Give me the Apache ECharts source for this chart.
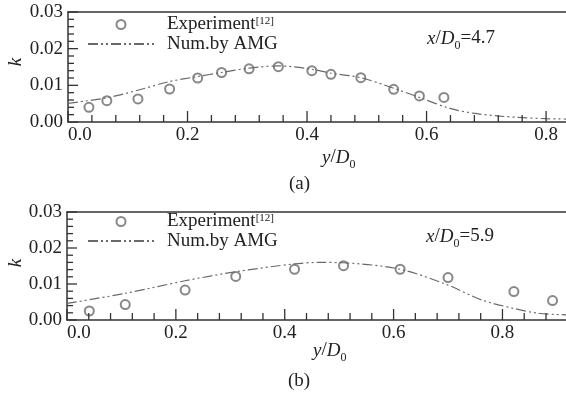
<!DOCTYPE html>
<html>
<head>
<meta charset="utf-8">
<script src="https://cdn.jsdelivr.net/npm/echarts@6/dist/echarts.min.js"></script>
<style>
html,body{margin:0;padding:0;background:#fff;}
#c{width:566px;height:395px;}
</style>
</head>
<body>
<div id="c"></div>
<script>
// ---- data (a): x/D0 = 4.7 ----
var expX_a = [0.035, 0.065, 0.117, 0.170, 0.217, 0.257, 0.303, 0.352, 0.408, 0.440, 0.490, 0.545, 0.588, 0.629];
var expK_a = [0.0040, 0.0058, 0.0063, 0.0090, 0.0120, 0.0135, 0.0145, 0.0151, 0.0140, 0.0130, 0.0121, 0.0089, 0.0071, 0.0067];
var numX_a = [0.000, 0.065, 0.120, 0.169, 0.217, 0.257, 0.303, 0.352, 0.408, 0.440, 0.490, 0.545, 0.588, 0.639, 0.678, 0.722, 0.761, 0.800, 0.840];
var numK_a = [0.0051, 0.0066, 0.0088, 0.0110, 0.0124, 0.0135, 0.0147, 0.0153, 0.0144, 0.0133, 0.0121, 0.0092, 0.0067, 0.0037, 0.0024, 0.0016, 0.0012, 0.0009, 0.0008];
// ---- data (b): x/D0 = 5.9 ----
var expX_b = [0.041, 0.107, 0.217, 0.310, 0.418, 0.508, 0.612, 0.700, 0.821, 0.892];
var expK_b = [0.0025, 0.0043, 0.0083, 0.0121, 0.0141, 0.0151, 0.0141, 0.0118, 0.0079, 0.0054];
var numX_b = [0.000, 0.107, 0.217, 0.310, 0.418, 0.462, 0.508, 0.612, 0.700, 0.761, 0.821, 0.865, 0.920];
var numK_b = [0.0046, 0.0074, 0.0109, 0.0134, 0.0156, 0.0160, 0.0159, 0.0141, 0.0097, 0.0056, 0.0032, 0.0019, 0.0014];
// ---- axis ticks ----
var xTicks = [0.0, 0.2, 0.4, 0.6, 0.8];
var yTicks = [0.00, 0.01, 0.02, 0.03];
var minorPerMajor = 5;
var seriesNames = ['Experiment', 'Num.by AMG'];
var panelLabels = ['(a)', '(b)'];
var stations = ['4.7', '5.9'];

function zip(xs, ys) { return xs.map(function (x, i) { return [x, ys[i]]; }); }

var FONT = 'Liberation Serif';
var AX = '#333';
var SER = '#6a6a6a';
var xMaxA = 500 / 600, xMaxB = 501 / 546.5;

function xAxisCfg(grid, max) {
  return {
    type: 'value', gridIndex: grid, min: xTicks[0], max: max, interval: xTicks[1] - xTicks[0],
    position: 'bottom',
    axisLine: { show: true, onZero: false, lineStyle: { color: AX, width: 1.5 } },
    axisTick: { show: false }, minorTick: { show: false },
    axisLabel: { show: true, fontFamily: FONT, fontSize: 19, color: '#222', margin: 4, showMaxLabel: false, alignMinLabel: 'left',
      formatter: function (v) { return v.toFixed(1); } },
    splitLine: { show: false }
  };
}
function xTopCfg(grid, max) {
  return {
    type: 'value', gridIndex: grid, min: xTicks[0], max: max, position: 'top',
    axisLine: { show: true, onZero: false, lineStyle: { color: AX, width: 1.5 } },
    axisTick: { show: false }, axisLabel: { show: false }, splitLine: { show: false }
  };
}
function yAxisCfg(grid) {
  return {
    type: 'value', gridIndex: grid, min: yTicks[0], max: yTicks[yTicks.length - 1], interval: yTicks[1] - yTicks[0],
    position: 'left',
    axisLine: { show: true, onZero: false, lineStyle: { color: AX, width: 1.5 } },
    axisTick: { show: false }, minorTick: { show: false },
    axisLabel: { show: true, fontFamily: FONT, fontSize: 19, color: '#222', margin: 5,
      formatter: function (v) { return v.toFixed(2); } },
    splitLine: { show: false }
  };
}
// tick positions along an axis: major ticks from the tick arrays, minor ticks between them
function tickValues(ticks, max, minor) {
  var step = (ticks[1] - ticks[0]) / minorPerMajor, out = [];
  for (var i = 0; ticks[0] + i * step <= max + 1e-9; i++) {
    var isMajor = (i % minorPerMajor === 0);
    if (isMajor !== minor) out.push(+(ticks[0] + i * step).toFixed(6));
  }
  return out;
}
// tick marks drawn as thin filled bars placed through the axis scale
function tickSeries(grid, dir, values, len) {
  return {
    type: 'scatter', name: 'tick', xAxisIndex: grid * 2, yAxisIndex: grid, silent: true, clip: false, z: 3,
    data: values.map(function (v) { return dir === 'x' ? [v, yTicks[0]] : [xTicks[0], v]; }),
    symbol: 'rect',
    symbolSize: dir === 'x' ? [1.3, len] : [len, 1.3],
    symbolOffset: dir === 'x' ? [0, -len / 2] : [len / 2, 0],
    itemStyle: { color: AX, opacity: 1, borderWidth: 0 },
    emphasis: { disabled: true }
  };
}
function expSeries(grid, data) {
  return {
    name: seriesNames[0], type: 'scatter', xAxisIndex: grid * 2, yAxisIndex: grid, data: data,
    symbol: 'emptyCircle', symbolSize: 9,
    itemStyle: { color: SER, borderColor: SER, borderWidth: 1.2 }
  };
}
function numSeries(grid, data) {
  return {
    name: seriesNames[1], type: 'line', xAxisIndex: grid * 2, yAxisIndex: grid, data: data,
    symbol: 'none', showSymbol: false, smooth: 0.3,
    lineStyle: { color: SER, width: 1.2, type: [10, 3, 2, 3, 2, 3] },
    itemStyle: { color: SER }
  };
}
function legendCfg(top) {
  return {
    orient: 'vertical', left: 87, top: top, padding: 0, itemWidth: 66, itemHeight: 9, itemGap: 0,
    symbolKeepAspect: true,
    data: [
      { name: seriesNames[0], icon: 'emptyCircle' },
      { name: seriesNames[1], itemStyle: { color: 'rgba(0,0,0,0)', borderColor: 'rgba(0,0,0,0)', opacity: 0 } }
    ],
    formatter: function (n) { return n === seriesNames[0] ? '{a|' + n + '}{s|[12]}' : '{a|' + n + '}'; },
    textStyle: {
      padding: [0, 0, 0, 8],
      rich: {
        a: { fontFamily: FONT, fontSize: 19, lineHeight: 18, color: '#222' },
        s: { fontFamily: FONT, fontSize: 11, lineHeight: 18, color: '#222', verticalAlign: 'top', padding: [0, 0, 8, 0] }
      }
    }
  };
}
function richLabel(left, top, text) {
  return {
    type: 'text', left: left, top: top,
    style: {
      text: text,
      rich: {
        i: { fontFamily: FONT, fontStyle: 'italic', fontSize: 19, lineHeight: 20, fill: '#222', verticalAlign: 'bottom' },
        n: { fontFamily: FONT, fontSize: 19, lineHeight: 20, fill: '#222', verticalAlign: 'bottom' },
        sub: { fontFamily: FONT, fontSize: 12, lineHeight: 12, fill: '#222', verticalAlign: 'bottom', padding: [0, 0, -4, 0] }
      }
    }
  };
}
function plainText(left, top, txt) {
  return { type: 'text', left: left, top: top,
    style: { text: txt, fontFamily: FONT, fontSize: 19, fill: '#222' } };
}
function kLabel(x, y) {
  return { type: 'text', x: x, y: y, rotation: Math.PI / 2,
    style: { text: 'k', fontFamily: FONT, fontStyle: 'italic', fontSize: 19, fill: '#222', align: 'center', verticalAlign: 'middle' } };
}

var chart = echarts.init(document.getElementById('c'), null, { renderer: 'canvas' });
chart.setOption({
  animation: false,
  backgroundColor: '#fff',
  grid: [
    { left: 68, top: 12, width: 500, height: 110, show: false },
    { left: 67, top: 212, width: 501, height: 108, show: false }
  ],
  xAxis: [xAxisCfg(0, xMaxA), xTopCfg(0, xMaxA), xAxisCfg(1, xMaxB), xTopCfg(1, xMaxB)],
  yAxis: [yAxisCfg(0), yAxisCfg(1)],
  legend: [legendCfg(15), legendCfg(212)],
  series: [
    numSeries(0, zip(numX_a, numK_a)),
    expSeries(0, zip(expX_a, expK_a)),
    numSeries(1, zip(numX_b, numK_b)),
    expSeries(1, zip(expX_b, expK_b)),
    tickSeries(0, 'x', tickValues(xTicks, xMaxA, false), 11),
    tickSeries(0, 'x', tickValues(xTicks, xMaxA, true), 7),
    tickSeries(0, 'y', tickValues(yTicks, yTicks[3], false), 10),
    tickSeries(0, 'y', tickValues(yTicks, yTicks[3], true), 6),
    tickSeries(1, 'x', tickValues(xTicks, xMaxB, false), 11),
    tickSeries(1, 'x', tickValues(xTicks, xMaxB, true), 7),
    tickSeries(1, 'y', tickValues(yTicks, yTicks[3], false), 10),
    tickSeries(1, 'y', tickValues(yTicks, yTicks[3], true), 6)
  ],
  graphic: [
    richLabel(427, 29, '{i|x}{n|/}{i|D}{sub|0}{n|=' + stations[0] + '}'),
    richLabel(426, 227, '{i|x}{n|/}{i|D}{sub|0}{n|=' + stations[1] + '}'),
    richLabel(322, 148, '{i|y}{n|/}{i|D}{sub|0}'),
    richLabel(313, 341, '{i|y}{n|/}{i|D}{sub|0}'),
    plainText(289, 175, panelLabels[0]),
    plainText(288, 372, panelLabels[1]),
    kLabel(16, 62),
    kLabel(16, 263)
  ]
});
</script>
</body>
</html>
